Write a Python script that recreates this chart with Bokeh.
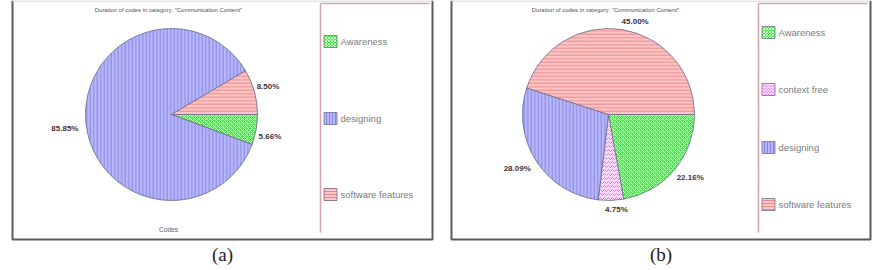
import math
from bokeh.plotting import figure
from bokeh.models import Range1d
from bokeh.core.properties import value
from bokeh.embed import file_html
from bokeh.resources import INLINE

# ---- data ----
chart_title = 'Duration of codes in category: "Communication Content"'
cats_a = ["Awareness", "designing", "software features"]
vals_a = [5.66, 85.85, 8.50]
cats_b = ["Awareness", "context free", "designing", "software features"]
vals_b = [22.16, 4.75, 28.09, 45.00]
captions = ["(a)", "(b)"]
axis_label_a = "Codes"

# ---- styles ----
STY = {
    "Awareness": dict(fill="#44ee44", hatch="diagonal_cross", hcol="#c8ffc8", scale=4.0),
    "designing": dict(fill="#b8b8fa", hatch="vertical_line", hcol="#8484e4", scale=3.5),
    "software features": dict(fill="#ffc4c4", hatch="horizontal_line", hcol="#e88a8a", scale=3.5),
    "context free": dict(fill="#ffd6ff", hatch="horizontal_wave", hcol="#e07ee0", scale=4.0),
}
# label nudges in pixels (layout only): (dx, dy-down)
NUDGE = [
    {"Awareness": (0, 4), "designing": (-7, 5), "software features": (0, -2)},
    {"Awareness": (5, -1), "context free": (5, -5), "designing": (-7, 0), "software features": (11, 6)},
]
H = 270
def Y(py):
    return H - py

p = figure(width=875, height=270, x_range=Range1d(0, 875), y_range=Range1d(0, 270),
           output_backend="svg", toolbar_location=None, min_border=0)
p.axis.visible = False
p.grid.visible = False
p.outline_line_color = None
p.background_fill_color = "white"

panels = [
    dict(cats=cats_a, vals=vals_a, left=12, right=432, cx=171, cy=114, r=86,
         legx=320, legy=[41, 118, 194], codes=True),
    dict(cats=cats_b, vals=vals_b, left=451, right=870, cx=608, cy=114, r=86,
         legx=758, legy=[32, 89, 147, 204], codes=False),
]

for i, pan in enumerate(panels):
    # frame
    p.line([pan["left"], pan["left"], pan["right"], pan["right"]],
           [Y(0), Y(239), Y(239), Y(0)], line_color="#5a5a5a", line_width=2)
    p.line([pan["left"], pan["right"]], [Y(0.5), Y(0.5)], line_color="#c8c8c8", line_width=1)
    # legend frame
    lx = pan["legx"]
    p.line([lx, lx], [Y(232), Y(3)], line_color="#d8a4ac", line_width=1.5)
    p.line([lx, pan["right"] - 3], [Y(3), Y(3)], line_color="#d8a4ac", line_width=1.5)
    # title
    p.text(x=[pan["cx"] - 3], y=[Y(9)], text=[chart_title], text_font=value("Liberation Sans"),
           text_font_size="5.9px", text_color="#505050", text_align="center", text_baseline="middle")
    # wedges
    cum = 0.0
    for c, v in zip(pan["cats"], pan["vals"]):
        s = STY[c]
        a0 = -cum / 100 * 2 * math.pi
        cum += v
        a1 = -cum / 100 * 2 * math.pi
        p.wedge(x=[pan["cx"]], y=[Y(pan["cy"])], radius=pan["r"], start_angle=a0, end_angle=a1,
                direction="clock", fill_color=s["fill"], hatch_pattern=s["hatch"],
                hatch_color=s["hcol"], hatch_scale=s["scale"], hatch_weight=1,
                line_color="#6a6a8a", line_width=0.8)
        mid = (a0 + a1) / 2
        d = pan["r"] + 14
        dx, dy = NUDGE[i][c]
        p.text(x=[pan["cx"] + d * math.cos(mid) + dx], y=[Y(pan["cy"]) + d * math.sin(mid) - dy],
               text=["%.2f%%" % v], text_font=value("Liberation Sans"), text_font_style="bold",
               text_font_size="8px", text_color="#4a3038", text_align="center",
               text_baseline="middle")
    # legend
    for c, ly in zip(pan["cats"], pan["legy"]):
        s = STY[c]
        p.rect(x=[lx + 10], y=[Y(ly)], width=13, height=12, fill_color=s["fill"],
               hatch_pattern=s["hatch"], hatch_color=s["hcol"], hatch_scale=3.0,
               line_color="#707090", line_width=0.8)
        p.text(x=[lx + 20], y=[Y(ly)], text=[c], text_font=value("Liberation Sans"),
               text_font_size="9.5px", text_color="#7a7a7a", text_align="left",
               text_baseline="middle")
    if pan["codes"]:
        p.text(x=[pan["cx"] - 3], y=[Y(229)], text=[axis_label_a], text_font=value("Liberation Sans"),
               text_font_size="6.5px", text_color="#606060", text_align="center",
               text_baseline="middle")
    # caption
    p.text(x=[(pan["left"] + pan["right"]) / 2], y=[Y(254)], text=[captions[i]],
           text_font=value("Liberation Serif"), text_font_size="19px", text_color="#222222",
           text_align="center", text_baseline="middle")

open("out.html", "w").write(file_html(p, INLINE))
